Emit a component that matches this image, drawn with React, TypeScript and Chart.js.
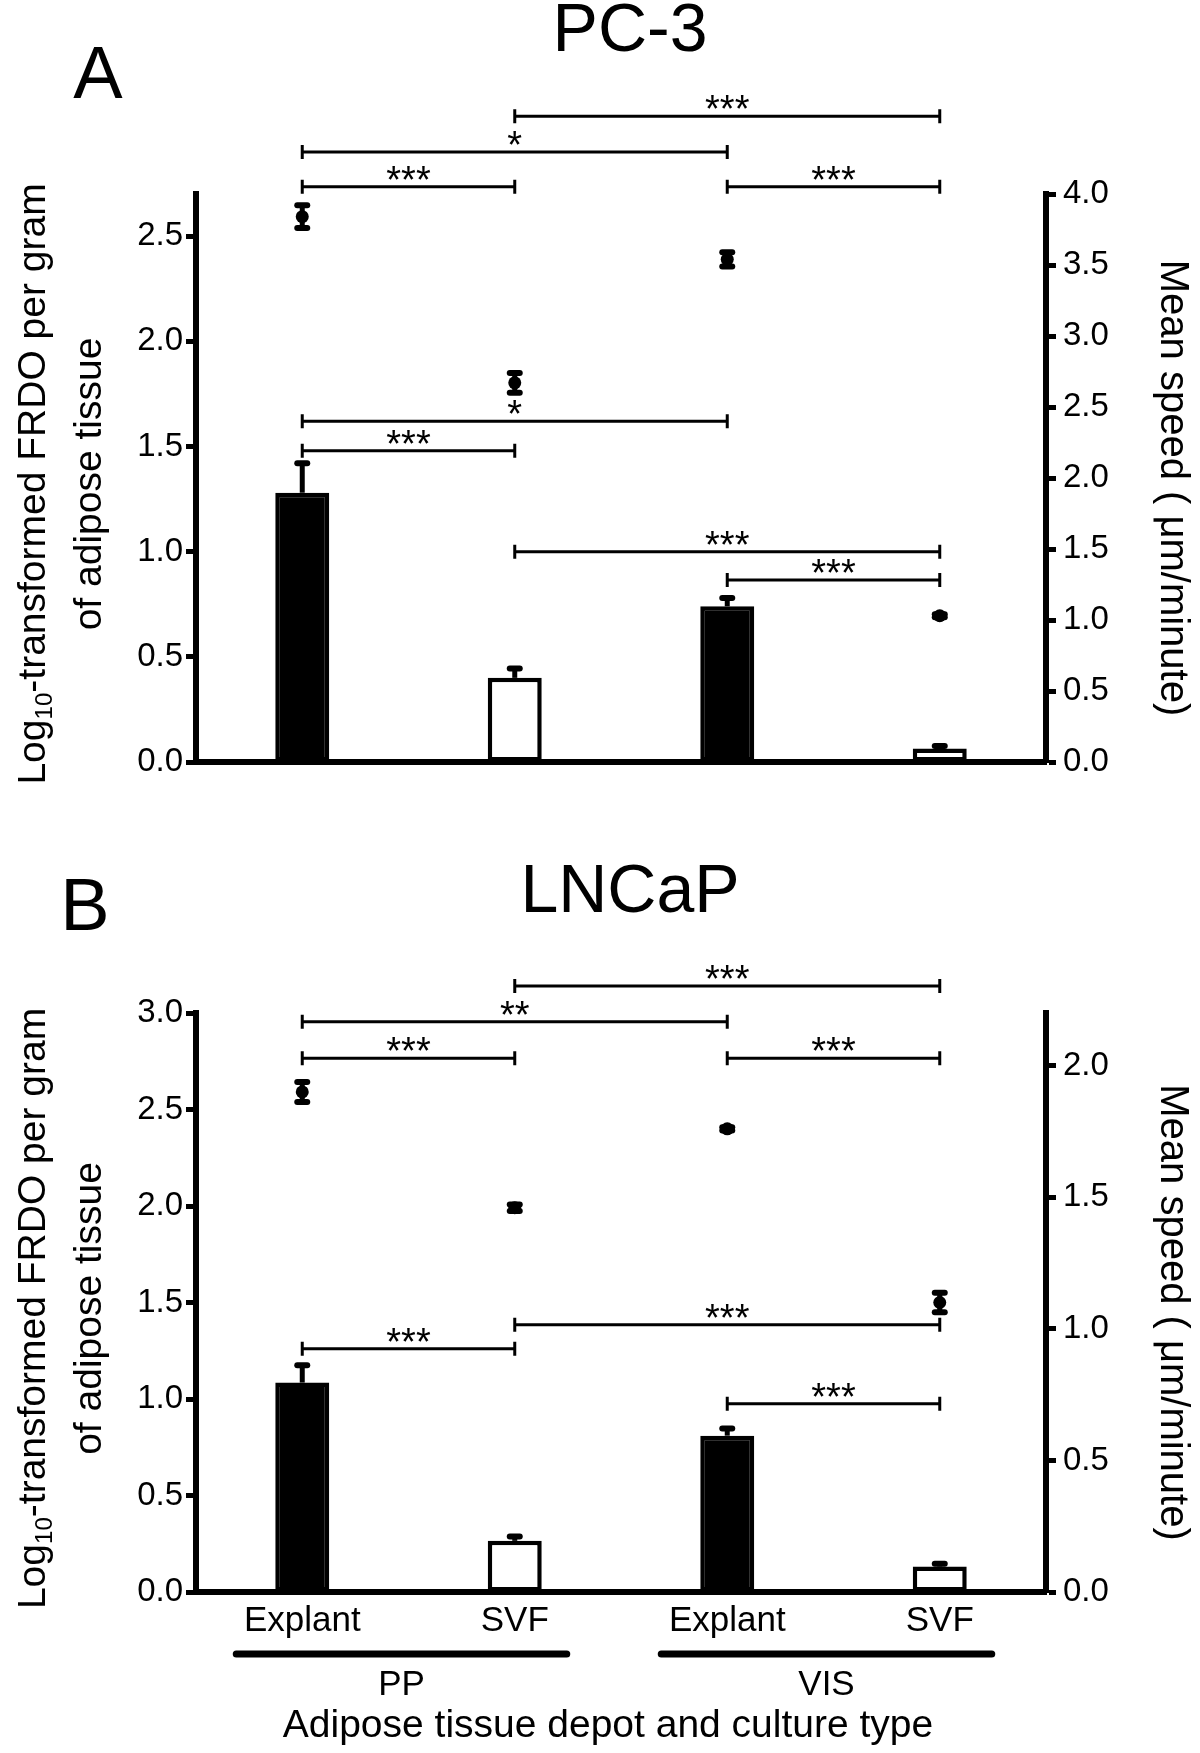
import { useEffect, useRef } from 'react';
import Chart from 'chart.js/auto';

const FONT = '"Liberation Sans", Arial, Helvetica, sans-serif';

const categories = ['Explant', 'SVF', 'Explant', 'SVF'];
const depots = ['PP', 'VIS'];
const depotSpans = [
  [0, 1],
  [2, 3],
];
const barFill = ['#000000', '#ffffff', '#000000', '#ffffff'];
const tickStep = 0.5;

// A : PC-3
const pc3Frdo = [1.28, 0.4, 0.74, 0.064];
const pc3FrdoSem = [0.14, 0.045, 0.04, 0.012];
const pc3Speed = [3.84, 2.67, 3.54, 1.03];
const pc3SpeedSem = [0.08, 0.07, 0.05, 0.01];
const pc3LeftMax = 2.7;
const pc3RightMax = 4.0;
// [from category, to category, height on the FRDO axis, stars]
const pc3Stars: [number, number, number, string][] = [
  [1, 3, 3.07, '***'],
  [0, 2, 2.9, '*'],
  [0, 1, 2.735, '***'],
  [2, 3, 2.735, '***'],
  [0, 2, 1.62, '*'],
  [0, 1, 1.48, '***'],
  [1, 3, 1.0, '***'],
  [2, 3, 0.865, '***'],
];

// B : LNCaP
const lncapFrdo = [1.085, 0.265, 0.81, 0.132];
const lncapFrdoSem = [0.09, 0.023, 0.037, 0.014];
const lncapSpeed = [1.9, 1.46, 1.76, 1.1];
const lncapSpeedSem = [0.038, 0.012, 0.006, 0.037];
const lncapLeftMax = 3.0;
const lncapRightMax = 2.2;
const lncapStars: [number, number, number, string][] = [
  [1, 3, 3.14, '***'],
  [0, 2, 2.955, '**'],
  [0, 1, 2.765, '***'],
  [2, 3, 2.765, '***'],
  [1, 3, 1.385, '***'],
  [0, 1, 1.26, '***'],
  [2, 3, 0.975, '***'],
];

type Panel = {
  letter: string;
  title: string;
  frdo: number[];
  frdoSem: number[];
  speed: number[];
  speedSem: number[];
  leftMax: number;
  rightMax: number;
  stars: [number, number, number, string][];
  height: number;
  padTop: number;
  xHeight: number;
  letterAt: [number, number];
  titleAt: [number, number];
  bottomAxis: boolean;
};

const panels: Panel[] = [
  {
    letter: 'A',
    title: 'PC-3',
    frdo: pc3Frdo,
    frdoSem: pc3FrdoSem,
    speed: pc3Speed,
    speedSem: pc3SpeedSem,
    leftMax: pc3LeftMax,
    rightMax: pc3RightMax,
    stars: pc3Stars,
    height: 830,
    padTop: 194,
    xHeight: 68,
    letterAt: [98, 78],
    titleAt: [630, 32],
    bottomAxis: false,
  },
  {
    letter: 'B',
    title: 'LNCaP',
    frdo: lncapFrdo,
    frdoSem: lncapFrdoSem,
    speed: lncapSpeed,
    speedSem: lncapSpeedSem,
    leftMax: lncapLeftMax,
    rightMax: lncapRightMax,
    stars: lncapStars,
    height: 923,
    padTop: 183,
    xHeight: 161,
    letterAt: [85, 80],
    titleAt: [630, 63],
    bottomAxis: true,
  },
];

const seg = (ctx: CanvasRenderingContext2D, x1: number, y1: number, x2: number, y2: number) => {
  ctx.beginPath();
  ctx.moveTo(x1, y1);
  ctx.lineTo(x2, y2);
  ctx.stroke();
};

const errorBar = (ctx: CanvasRenderingContext2D, x: number, from: number, to: number, both: boolean) => {
  ctx.lineCap = 'butt';
  ctx.lineWidth = 5;
  seg(ctx, x, from, x, to);
  ctx.lineCap = 'round';
  ctx.lineWidth = 6;
  seg(ctx, x - 5, to, x + 5, to);
  if (both) seg(ctx, x - 5, from, x + 5, from);
};

// rotated left title, with the subscript in Log10
const leftTitle = (ctx: CanvasRenderingContext2D, cy: number) => {
  const f = 39;
  const parts: [string, number, number][] = [
    ['Log', f, 0],
    ['10', f * 0.62, f * 0.2],
    ['-transformed FRDO per gram', f, 0],
  ];
  ctx.save();
  ctx.translate(31, cy);
  ctx.rotate(-Math.PI / 2);
  ctx.textAlign = 'left';
  ctx.textBaseline = 'alphabetic';
  let total = 0;
  parts.forEach(([t, s]) => {
    ctx.font = `${s}px ${FONT}`;
    total += ctx.measureText(t).width;
  });
  let x = -total / 2;
  parts.forEach(([t, s, dy]) => {
    ctx.font = `${s}px ${FONT}`;
    ctx.fillText(t, x, f * 0.35 + dy);
    x += ctx.measureText(t).width;
  });
  ctx.restore();

  ctx.save();
  ctx.translate(77, cy);
  ctx.rotate(-Math.PI / 2);
  ctx.font = `${f}px ${FONT}`;
  ctx.textAlign = 'center';
  ctx.fillText('of adipose tissue', 0, f * 0.35);
  ctx.restore();
};

const rightTitle = (ctx: CanvasRenderingContext2D, cy: number) => {
  const f = 40;
  ctx.save();
  ctx.translate(1175, cy);
  ctx.rotate(Math.PI / 2);
  ctx.font = `${f}px ${FONT}`;
  ctx.textAlign = 'center';
  ctx.textBaseline = 'alphabetic';
  ctx.fillText('Mean speed ( \u03bcm/minute)', 0, f * 0.35);
  ctx.restore();
};

const panelDecor = (p: Panel) => ({
  id: 'panelDecor',
  afterDatasetsDraw(chart: Chart) {
    const { ctx } = chart;
    const yL = chart.scales.y;
    const yR = chart.scales.y1;
    ctx.save();
    ctx.strokeStyle = '#000';
    chart.getDatasetMeta(0).data.forEach((bar: any, i: number) => {
      const top = yL.getPixelForValue(p.frdo[i] + p.frdoSem[i]);
      errorBar(ctx, bar.x, bar.y, top, false);
    });
    chart.getDatasetMeta(1).data.forEach((pt: any, i: number) => {
      const hi = yR.getPixelForValue(p.speed[i] + p.speedSem[i]);
      const lo = yR.getPixelForValue(p.speed[i] - p.speedSem[i]);
      errorBar(ctx, pt.x, lo, hi, true);
    });
    ctx.restore();
  },
  afterDraw(chart: Chart) {
    const { ctx, chartArea } = chart;
    const xs = chart.scales.x;
    const yL = chart.scales.y;
    const mid = (chartArea.top + chartArea.bottom) / 2;
    ctx.save();
    ctx.fillStyle = '#000';
    ctx.strokeStyle = '#000';

    ctx.textAlign = 'center';
    ctx.textBaseline = 'middle';
    ctx.font = `74px ${FONT}`;
    ctx.fillText(p.letter, p.letterAt[0], p.letterAt[1]);
    ctx.font = `68px ${FONT}`;
    ctx.fillText(p.title, p.titleAt[0], p.titleAt[1]);

    leftTitle(ctx, mid + 6);
    rightTitle(ctx, mid + 10);

    // significance brackets
    p.stars.forEach(([a, b, level, label]) => {
      const x1 = xs.getPixelForValue(a);
      const x2 = xs.getPixelForValue(b);
      const y = yL.getPixelForValue(level);
      ctx.lineWidth = 3;
      ctx.lineCap = 'butt';
      ctx.beginPath();
      ctx.moveTo(x1, y);
      ctx.lineTo(x2, y);
      ctx.moveTo(x1, y - 7);
      ctx.lineTo(x1, y + 7);
      ctx.moveTo(x2, y - 7);
      ctx.lineTo(x2, y + 7);
      ctx.stroke();
      ctx.font = `38px ${FONT}`;
      ctx.textAlign = 'center';
      ctx.textBaseline = 'alphabetic';
      ctx.fillText(label, (x1 + x2) / 2, y + 6);
    });

    if (p.bottomAxis) {
      ctx.lineWidth = 7;
      ctx.lineCap = 'round';
      ctx.textAlign = 'center';
      ctx.textBaseline = 'middle';
      ctx.font = `35px ${FONT}`;
      depotSpans.forEach(([a, b], i) => {
        const x1 = xs.getPixelForValue(a) - 66;
        const x2 = xs.getPixelForValue(b) + 52;
        seg(ctx, x1, 824, x2, 824);
        ctx.fillText(depots[i], (x1 + x2) / 2, 855);
      });
      ctx.font = `39px ${FONT}`;
      ctx.fillText('Adipose tissue depot and culture type', 608, 896);
    }
    ctx.restore();
  },
});

const makeConfig = (p: Panel): any => ({
  type: 'bar',
  data: {
    labels: categories,
    datasets: [
      {
        type: 'bar',
        data: p.frdo,
        yAxisID: 'y',
        backgroundColor: barFill,
        borderColor: '#000',
        borderWidth: 4.5,
        borderSkipped: false,
        barPercentage: 0.254,
        categoryPercentage: 1,
        order: 2,
      },
      {
        type: 'line',
        data: p.speed,
        yAxisID: 'y1',
        showLine: false,
        pointRadius: 6.5,
        pointBackgroundColor: '#000',
        pointBorderColor: '#000',
        pointBorderWidth: 0,
        order: 1,
      },
    ],
  },
  options: {
    responsive: false,
    animation: false,
    events: [],
    layout: { padding: { top: p.padTop, left: 0, right: 0, bottom: 0 } },
    plugins: {
      legend: { display: false },
      title: { display: false },
      tooltip: { enabled: false },
    },
    scales: {
      x: {
        grid: { display: false },
        border: { color: '#000', width: 6 },
        ticks: { display: p.bottomAxis, color: '#000', font: { size: 35 }, padding: 0 },
        afterFit: (s: any) => {
          s.height = p.xHeight;
        },
      },
      y: {
        position: 'left',
        min: 0,
        max: p.leftMax,
        grid: { drawOnChartArea: false, tickColor: '#000', tickLength: 10, tickWidth: 5 },
        border: { color: '#000', width: 6 },
        ticks: {
          stepSize: tickStep,
          includeBounds: false,
          color: '#000',
          font: { size: 33 },
          padding: 3,
          callback: (v: any) => Number(v).toFixed(1),
        },
        afterFit: (s: any) => {
          s.width = 196;
        },
      },
      y1: {
        position: 'right',
        min: 0,
        max: p.rightMax,
        grid: { drawOnChartArea: false, tickColor: '#000', tickLength: 10, tickWidth: 5 },
        border: { color: '#000', width: 6 },
        ticks: {
          stepSize: tickStep,
          includeBounds: false,
          color: '#000',
          font: { size: 33 },
          padding: 7,
          callback: (v: any) => Number(v).toFixed(1),
        },
        afterFit: (s: any) => {
          s.width = 154;
        },
      },
    },
  },
  plugins: [panelDecor(p)],
});

const PanelChart = ({ panel, top }: { panel: Panel; top: number }) => {
  const chartRef = useRef<HTMLCanvasElement | null>(null);

  useEffect(() => {
    if (!chartRef.current) return;
    Chart.defaults.font.family = FONT;
    Chart.defaults.color = '#000';
    const chartInstance = new Chart(chartRef.current, makeConfig(panel));
    return () => {
      chartInstance.destroy();
    };
  }, [panel]);

  return (
    <canvas
      ref={chartRef}
      width={1200}
      height={panel.height}
      style={{ position: 'absolute', left: 0, top, width: 1200, height: panel.height }}
    />
  );
};

const App = () => (
  <div style={{ position: 'absolute', left: 0, top: 0, width: 1200, height: 1753, background: '#fff' }}>
    <PanelChart panel={panels[0]} top={0} />
    <PanelChart panel={panels[1]} top={830} />
  </div>
);

export default App;
